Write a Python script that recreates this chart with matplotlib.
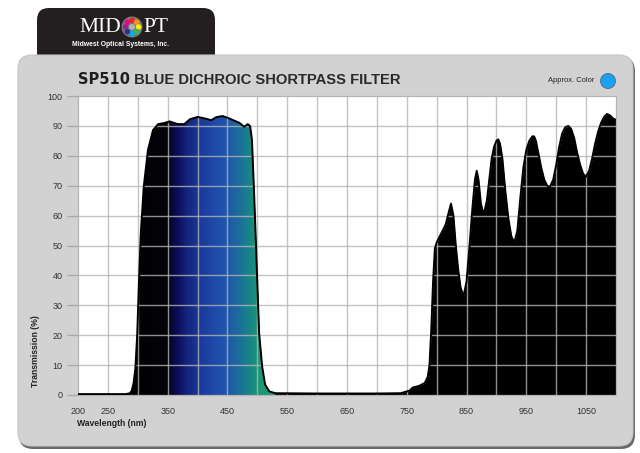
import numpy as np
import matplotlib
matplotlib.use("Agg")
import matplotlib.pyplot as plt
from matplotlib.patches import FancyBboxPatch, Polygon, Circle
from matplotlib.colors import LinearSegmentedColormap

plt.rcParams['font.family'] = ['Liberation Sans', 'DejaVu Sans']

# ---------------- data ----------------
wavelength = [200, 280, 287, 290, 293, 296, 299, 302, 305, 310, 317, 325.5, 334, 345, 353, 367, 378,
              387, 400, 412, 423, 431, 442, 453, 462, 470, 478, 484, 488, 491, 495, 499, 503,
              508, 513, 520, 530, 600, 700, 740, 755, 760, 770, 780, 785, 788, 791, 794, 797,
              800, 805, 810, 815, 820, 824, 828, 832, 836, 840, 845, 850, 855, 860, 864, 867,
              870, 874, 877, 880, 884, 888, 892, 896, 900, 903, 906, 910, 915, 920, 925, 930,
              935, 940, 945, 950, 955, 960, 963, 966, 970, 975, 980, 985, 989, 995, 1000, 1005,
              1010, 1015, 1020, 1025, 1030, 1035, 1040, 1045, 1050, 1055, 1060, 1065, 1070,
              1075, 1080, 1085, 1090, 1095, 1100]
transmission = [0.3, 0.3, 0.6, 1.5, 4, 9, 20, 38, 54, 69.7, 81.9, 88.6, 90.6, 91, 91.5, 90.6, 90.6,
                92.2, 93, 92.5, 91.9, 92.9, 93.3, 92.5, 91.7, 91, 89.7, 90.6, 89.9, 85.3, 65.3,
                43, 20.7, 9.6, 3.5, 1.2, 0.6, 0.5, 0.5, 0.6, 1.5, 2.5, 3, 4, 6, 10, 22, 38, 49,
                51, 53, 55, 57, 61, 64, 60, 50, 42, 36, 33, 38, 50, 63, 72, 75,
                72, 64, 61.5, 61.5, 65, 72, 79, 83, 85, 85.5, 84, 79, 68, 59, 53, 51,
                55, 66, 76, 82, 85, 86.5, 86.5, 85, 81, 76, 72, 70, 69.5, 72, 77, 83,
                87.5, 89.5, 90, 89, 86, 81, 77, 74, 73, 75, 79, 84, 88,
                91, 93, 94, 93.5, 92.5, 92]

x_tick_values = [200, 250, 350, 450, 550, 650, 750, 850, 950, 1050]
y_tick_values = [0, 10, 20, 30, 40, 50, 60, 70, 80, 90, 100]
grid_x = list(range(250, 1100, 50))
grid_y = list(range(10, 100, 10))

# gradient colour stops for the visible pass band (wavelength, colour)
band_stops_nm = [200, 350, 357, 367, 382, 405, 430, 450, 468, 485, 500, 530]
band_stops_col = ['#000000', '#030308', '#08083a', '#0d0e5c', '#15257e', '#1b3a9c', '#1e4cab',
                  '#1f58aa', '#1c6c9c', '#17838a', '#1a9676', '#1aa070']
band_end = 530

W, H = 640, 453
fig = plt.figure(figsize=(W / 100, H / 100), dpi=100)
fig.patch.set_facecolor('white')

# ---------- background decoration axes (pixel coords) ----------
bg = fig.add_axes([0, 0, 1, 1], zorder=0)
bg.set_xlim(0, W)
bg.set_ylim(H, 0)
bg.axis('off')

# logo tab
tab = FancyBboxPatch((37, 8), 178, 70, boxstyle="round,pad=0,rounding_size=12",
                     facecolor='#231f20', edgecolor='none')
bg.add_patch(tab)
# panel shadow and panel
shadow = FancyBboxPatch((19, 57), 616, 392, boxstyle="round,pad=0,rounding_size=14",
                        facecolor='#6a6a6a', edgecolor='none')
bg.add_patch(shadow)
panel = FancyBboxPatch((18, 55), 615, 391, boxstyle="round,pad=0,rounding_size=14",
                       facecolor='#d2d2d2', edgecolor='#c4c4c4', linewidth=0.8)
bg.add_patch(panel)

# logo text
bg.text(121, 28, "MID", color='white', fontsize=15.5, family='Liberation Serif',
        ha='right', va='center')
bg.text(143, 28, "PT", color='white', fontsize=15.5, family='Liberation Serif',
        ha='left', va='center')
bg.text(120, 45, "Midwest Optical Systems, Inc.", color='white', fontsize=4.9,
        weight='bold', ha='center', va='center')
bg.add_patch(Circle((132, 27), 10.5, facecolor='#7a7a7a', edgecolor='none'))
dot_cols = ['#e8242a', '#f7941d', '#fff200', '#39b54a', '#00aeef', '#2e3192', '#92278f', '#ec008c']
for k, c in enumerate(dot_cols):
    a = np.pi / 2 - k * 2 * np.pi / len(dot_cols)
    bg.add_patch(Circle((132 + 6.6 * np.cos(a), 27 - 6.6 * np.sin(a)), 2.8,
                        facecolor=c, edgecolor='none'))
bg.add_patch(Circle((132, 27), 3.0, facecolor='#b0b0b0', edgecolor='none'))

# title
t1 = bg.text(78, 80, "SP510", fontsize=10.5, weight='heavy', color='#1e1e1e',
             ha='left', va='center', family='DejaVu Sans')
bg.annotate(" BLUE DICHROIC SHORTPASS FILTER", xy=(1, 0.5), xycoords=t1,
            ha='left', va='center', fontsize=10.6, weight='bold', color='#2a2a2a')

# approx colour
bg.text(594, 81, "Approx. Color", fontsize=5.4, ha='right', va='center', color='#222222')
bg.add_patch(Circle((608, 81), 7.5, facecolor='#1ea0f2', edgecolor='#4a6a80', linewidth=0.6))

# axis labels
bg.text(36, 351, "Transmission (%)", rotation=90, fontsize=6.2, weight='bold',
        ha='center', va='center', color='#222222')
bg.text(77, 424, "Wavelength (nm)", fontsize=6.2, weight='bold', ha='left', va='center',
        color='#222222')

# ---------------- main plot ----------------
ax = fig.add_axes([78 / W, 1 - 395 / H, (616 - 78) / W, (395 - 96) / H], zorder=1)
ax.set_facecolor('white')
ax.set_xlim(200, 1100)
ax.set_ylim(0, 100)

wl = np.array(wavelength, dtype=float)
tr = np.array(transmission, dtype=float)

# black fill of the whole curve
ax.fill_between(wl, tr, 0, color='black', linewidth=0, zorder=1)

# gradient for the pass band, clipped to the curve
mask = wl <= band_end
verts = list(zip(wl[mask], tr[mask])) + [(wl[mask][-1], 0), (wl[mask][0], 0)]
clip = Polygon(verts, closed=True, facecolor='none', edgecolor='none', transform=ax.transData)
ax.add_patch(clip)
pos = [(v - band_stops_nm[0]) / (band_stops_nm[-1] - band_stops_nm[0]) for v in band_stops_nm]
cmap = LinearSegmentedColormap.from_list('band', list(zip(pos, band_stops_col)))
grad = np.linspace(0, 1, 512).reshape(1, -1)
im = ax.imshow(grad, cmap=cmap, aspect='auto', extent=[band_stops_nm[0], band_stops_nm[-1], 0, 100],
               origin='lower', zorder=1.5, interpolation='bilinear')
im.set_clip_path(clip)

# grid lines on top
for gx in grid_x:
    ax.axvline(gx, color='#b4b4b4', alpha=0.8, linewidth=1.0, zorder=3)
for gy in grid_y:
    ax.axhline(gy, color='#b4b4b4', alpha=0.8, linewidth=1.0, zorder=3)

# outline
ax.plot(wl, tr, color='black', linewidth=1.4, zorder=4, solid_joinstyle='round')

ax.set_xticks(x_tick_values)
ax.set_xticklabels([str(v) for v in x_tick_values])
ax.set_yticks(y_tick_values)
ax.set_yticklabels([str(v) for v in y_tick_values])
ax.tick_params(axis='x', length=0, pad=9, labelsize=6.5, labelcolor='#333333')
ax.tick_params(axis='y', length=8, width=0.9, color='#a8a8a8', pad=3, labelsize=6.5,
               labelcolor='#333333')
for s in ax.spines.values():
    s.set_color('#b4b4b4')
    s.set_linewidth(0.9)

fig.savefig('out.png', dpi=100, facecolor='white')
